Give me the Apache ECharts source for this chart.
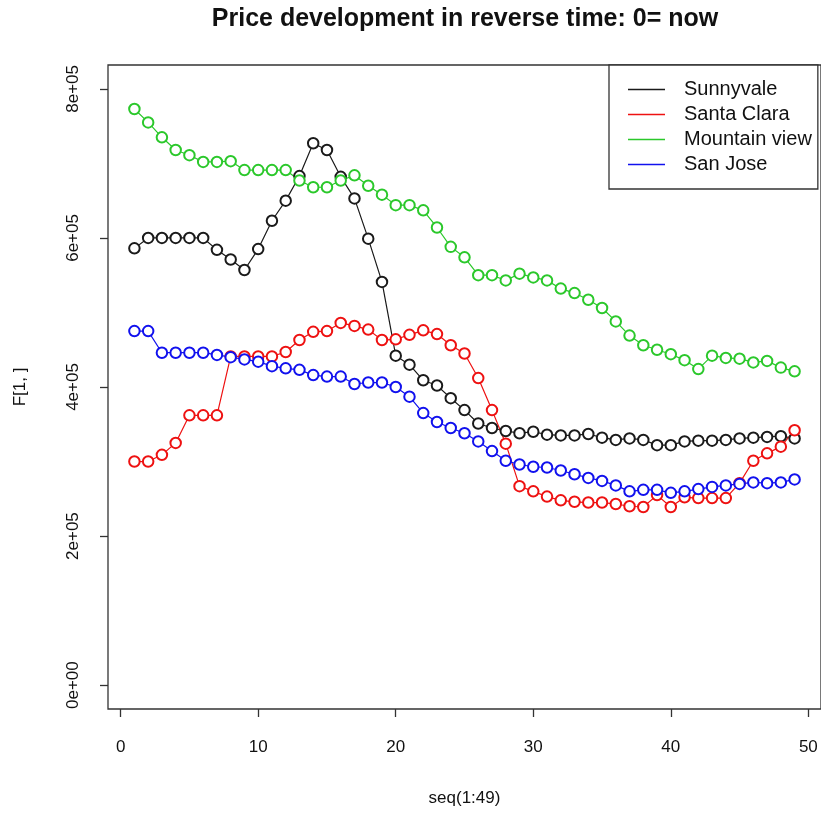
<!DOCTYPE html>
<html>
<head>
<meta charset="utf-8">
<script src="https://cdn.jsdelivr.net/npm/echarts@6/dist/echarts.min.js"></script>
<style>
  html, body { margin: 0; padding: 0; background: #fff; }
  #chart { width: 821px; height: 814px; }
</style>
</head>
<body>
<div id="chart"></div>
<script>
// Month index, 1 = most recent
const seqIdx = [1,2,3,4,5,6,7,8,9,10,11,12,13,14,15,16,17,18,19,20,21,22,23,24,25,
  26,27,28,29,30,31,32,33,34,35,36,37,38,39,40,41,42,43,44,45,46,47,48,49];

const sunnyvale = [586000,600000,600000,600000,600000,600000,584000,571000,557000,585000,
  623000,650000,683000,727000,718000,682000,653000,599000,541000,442000,
  430000,409000,402000,385000,369000,351000,345000,341000,338000,340000,
  336000,335000,335000,337000,332000,329000,331000,329000,322000,322000,
  327000,328000,328000,329000,331000,332000,333000,334000,331000];

const santaClara = [300000,300000,309000,325000,362000,362000,362000,441000,441000,441000,
  441000,447000,463000,474000,475000,486000,482000,477000,463000,464000,
  470000,476000,471000,456000,445000,412000,369000,324000,267000,260000,
  253000,248000,246000,245000,245000,243000,240000,239000,255000,239000,
  252000,251000,251000,251000,271000,301000,311000,320000,342000];

const mountainView = [773000,755000,735000,718000,711000,702000,702000,703000,691000,691000,
  691000,691000,677000,668000,668000,677000,684000,670000,658000,644000,
  644000,637000,614000,588000,574000,550000,550000,543000,552000,547000,
  543000,532000,526000,517000,506000,488000,469000,456000,450000,444000,
  436000,424000,442000,439000,438000,433000,435000,426000,421000];

const sanJose = [475000,475000,446000,446000,446000,446000,443000,440000,437000,434000,
  428000,425000,423000,416000,414000,414000,404000,406000,406000,400000,
  387000,365000,353000,345000,338000,327000,314000,301000,296000,293000,
  292000,288000,283000,278000,274000,268000,260000,262000,262000,258000,
  260000,263000,266000,268000,270000,272000,271000,272000,276000];

const seriesNames = ['Sunnyvale', 'Santa Clara', 'Mountain view', 'San Jose'];
const seriesColors = ['#1a1a1a', '#ee1111', '#2bc82b', '#1111ee'];
const seriesValues = [sunnyvale, santaClara, mountainView, sanJose];

const xTicks = [0, 10, 20, 30, 40, 50];
const yTicks = [0, 200000, 400000, 600000, 800000];
const yTickLabels = ['0e+00', '2e+05', '4e+05', '6e+05', '8e+05'];

const FONT = '"Liberation Sans", Arial, Helvetica, sans-serif';

const chart = echarts.init(document.getElementById('chart'), null, { renderer: 'canvas' });

const series = seriesNames.map((name, k) => ({
  name: name,
  type: 'line',
  data: seqIdx.map((x, i) => [x, seriesValues[k][i]]),
  symbol: 'emptyCircle',
  symbolSize: 10.5,
  showSymbol: true,
  lineStyle: { color: seriesColors[k], width: 1.2 },
  itemStyle: { color: seriesColors[k], borderColor: seriesColors[k], borderWidth: 1.2 },
  emphasis: { disabled: true },
  animation: false,
  z: 2
}));

chart.setOption({
  animation: false,
  backgroundColor: '#ffffff',
  title: {
    text: 'Price development in reverse time: 0= now',
    left: 460,
    top: 2,
    textAlign: 'center',
    textStyle: { fontFamily: FONT, fontWeight: 'bold', fontSize: 25, color: '#111' }
  },
  grid: {
    left: 108,
    top: 65,
    right: -2.4,
    bottom: 105,
    show: true,
    borderColor: '#333',
    borderWidth: 1.3,
    backgroundColor: 'transparent'
  },
  legend: {
    data: seriesNames,
    orient: 'vertical',
    left: 609,
    top: 65,
    padding: [12, 6, 12, 19],
    itemGap: 0,
    itemWidth: 37,
    itemHeight: 1.3,
    icon: 'rect',
    itemStyle: { borderWidth: 0 },
    borderColor: '#333',
    borderWidth: 1.3,
    backgroundColor: '#fff',
    textStyle: { fontFamily: FONT, fontSize: 20, color: '#111', lineHeight: 25, padding: [0, 0, 0, 14] },
    selectedMode: false
  },
  xAxis: {
    type: 'value',
    min: -0.92,
    max: 50.92,
    name: 'seq(1:49)',
    nameLocation: 'middle',
    nameGap: 81,
    nameTextStyle: { fontFamily: FONT, fontSize: 17, color: '#111' },
    axisLine: { show: false, onZero: false },
    splitLine: { show: false },
    axisTick: { show: true, inside: false, length: 8, customValues: xTicks, lineStyle: { color: '#333', width: 1.3 } },
    axisLabel: { customValues: xTicks, fontFamily: FONT, fontSize: 17, color: '#111', margin: 30 }
  },
  yAxis: {
    type: 'value',
    min: -32000,
    max: 832000,
    name: 'F[1, ]',
    nameLocation: 'middle',
    nameGap: 79,
    nameRotate: 90,
    nameTextStyle: { fontFamily: FONT, fontSize: 17, color: '#111' },
    axisLine: { show: false, onZero: false },
    splitLine: { show: false },
    axisTick: { show: true, inside: false, length: 8, customValues: yTicks, lineStyle: { color: '#333', width: 1.3 } },
    axisLabel: {
      customValues: yTicks,
      rotate: 90,
      fontFamily: FONT,
      fontSize: 17,
      color: '#111',
      margin: 26,
      formatter: (v) => {
        const k = yTicks.indexOf(v);
        return k >= 0 ? yTickLabels[k] : '';
      }
    }
  },
  series: series
});
</script>
</body>
</html>
